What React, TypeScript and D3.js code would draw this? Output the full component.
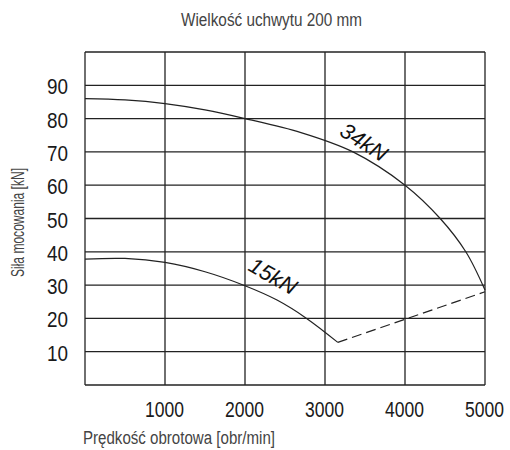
import React from "react";
import * as d3 from "d3";

const xTicks = [1000, 2000, 3000, 4000, 5000];
const xGrid = [0, 1000, 2000, 3000, 4000, 5000];
const yTicks = [10, 20, 30, 40, 50, 60, 70, 80, 90];
const yGrid = [0, 10, 20, 30, 40, 50, 60, 70, 80, 90, 100];

const curve34X = [0, 500, 1000, 1500, 2000, 2700, 3350, 4000, 4440, 4760, 5000];
const curve34Y = [86, 85.6, 84.5, 82.6, 80, 75.8, 70, 60, 50, 40, 28.5];
const curve15X = [0, 500, 1000, 1500, 2000, 2400, 2770, 3160];
const curve15Y = [37.8, 38, 36.8, 34, 29.8, 25.5, 20, 12.8];
const dashedX = [3160, 5000];
const dashedY = [12.8, 28];

const title = "Wielkość uchwytu 200 mm";
const xTitle = "Prędkość obrotowa [obr/min]";
const yTitle = "Siła mocowania [kN]";
const label34 = "34kN";
const label15 = "15kN";

const FONT = "'Liberation Sans', Arial, sans-serif";

export default function App() {
  const W = 510, H = 450;
  const left = 85, right = 485, top = 52, bottom = 385;
  const x = d3.scaleLinear().domain([0, 5000]).range([left, right]);
  const y = d3.scaleLinear().domain([0, 100]).range([bottom, top]);
  const line = d3
    .line<[number, number]>()
    .x((d) => x(d[0]))
    .y((d) => y(d[1]))
    .curve(d3.curveCatmullRom.alpha(0.5));
  const straight = d3
    .line<[number, number]>()
    .x((d) => x(d[0]))
    .y((d) => y(d[1]));
  const d34 = curve34X.map((v, i) => [v, curve34Y[i]] as [number, number]);
  const d15 = curve15X.map((v, i) => [v, curve15Y[i]] as [number, number]);
  const dd = dashedX.map((v, i) => [v, dashedY[i]] as [number, number]);

  return (
    <svg width={W} height={H} style={{ position: "absolute", left: 0, top: 0, background: "#fff" }}>
      <text x={181} y={26} fontFamily={FONT} fontSize={18} fill="#444" textLength={181} lengthAdjust="spacingAndGlyphs">
        {title}
      </text>
      {xGrid.map((v) => (
        <line key={"gx" + v} x1={x(v)} x2={x(v)} y1={y(0)} y2={y(100)} stroke="#222" strokeWidth={1.3} />
      ))}
      {yGrid.map((v) => (
        <line key={"gy" + v} x1={x(0)} x2={x(5000)} y1={y(v)} y2={y(v)} stroke="#222" strokeWidth={1.3} />
      ))}
      {yTicks.map((v) => (
        <text key={"ty" + v} x={47} y={y(v) + 9} fontFamily={FONT} fontSize={22} fill="#1a1a1a"
          textLength={21} lengthAdjust="spacingAndGlyphs">
          {v}
        </text>
      ))}
      {xTicks.map((v) => (
        <text key={"tx" + v} x={x(v) - 20} y={417} fontFamily={FONT} fontSize={22} fill="#1a1a1a"
          textLength={39} lengthAdjust="spacingAndGlyphs">
          {v}
        </text>
      ))}
      <text x={83} y={444} fontFamily={FONT} fontSize={18} fill="#444" textLength={192} lengthAdjust="spacingAndGlyphs">
        {xTitle}
      </text>
      <text transform={`translate(24, 277) rotate(-90)`} fontFamily={FONT} fontSize={18} fill="#444"
        textLength={109} lengthAdjust="spacingAndGlyphs">
        {yTitle}
      </text>
      <path d={line(d34) || ""} fill="none" stroke="#222" strokeWidth={1.2} />
      <path d={line(d15) || ""} fill="none" stroke="#222" strokeWidth={1.2} />
      <path d={straight(dd) || ""} fill="none" stroke="#222" strokeWidth={1.2} strokeDasharray="10,5" />
      <text transform={`translate(364, 142) rotate(33)`} textAnchor="middle" dy="0.35em" fontFamily={FONT} fontStyle="italic" fontSize={22} fill="#111">
        {label34}
      </text>
      <text transform={`translate(273, 276) rotate(30)`} textAnchor="middle" dy="0.35em" fontFamily={FONT} fontStyle="italic" fontSize={22} fill="#111">
        {label15}
      </text>
    </svg>
  );
}
